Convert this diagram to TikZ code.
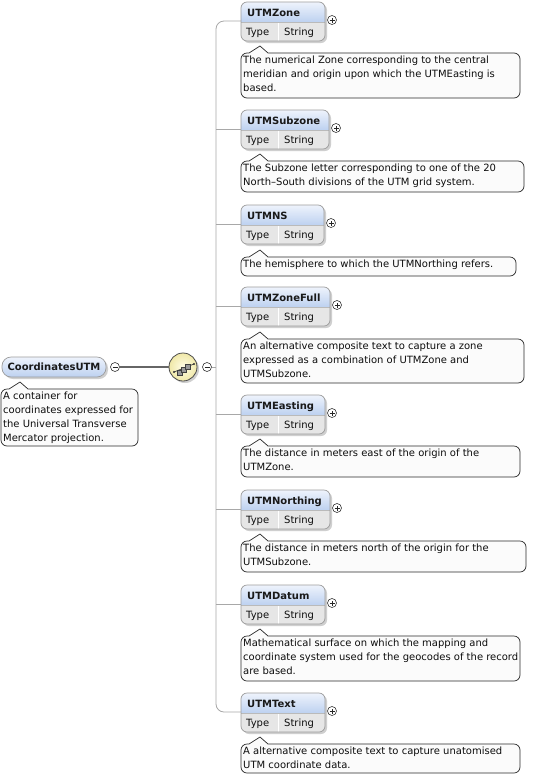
\documentclass[tikz,border=0pt]{standalone}
\usepackage{fontspec}
\setmainfont{DejaVu Sans}
\definecolor{headtop}{HTML}{EEF3FC}
\definecolor{headbot}{HTML}{BDD1F0}
\definecolor{typegray}{HTML}{E6E6E6}
\definecolor{bordergray}{HTML}{9C9C9C}
\definecolor{shadowgray}{HTML}{CFCFCF}
\definecolor{linegray}{HTML}{A8A8A8}
\definecolor{docborder}{HTML}{2A2A2A}
\definecolor{docfill}{HTML}{FBFBFB}
\definecolor{seqin}{HTML}{FFFDE6}
\definecolor{seqout}{HTML}{F0E8A8}
\tikzset{
  conn/.style={draw=linegray, line width=0.8pt},
  docbox/.style={draw=docborder, fill=docfill, line width=0.7pt},
  elname/.style={font=\bfseries\fontsize{10}{12}\selectfont, anchor=base west, inner sep=0pt, text=black!90},
  eltype/.style={font=\fontsize{10}{12}\selectfont, anchor=base west, inner sep=0pt, text=black!95},
  doctext/.style={font=\fontsize{10}{14}\selectfont, anchor=north west, inner sep=0pt, align=left, text=black!95},
  pm/.style={circle, draw=black!80, fill=white, line width=0.6pt, minimum size=9pt, inner sep=0pt},
  pmbar/.style={draw=black!85, line width=0.6pt},
}
\newcommand\docpath[4]{%
  \draw[docbox] (#1,-#2-6) arc[start angle=180,end angle=90,radius=6pt]
    -- (#1+8,-#2) -- (#1+19,-#2+7) -- (#1+27,-#2) -- (#3-6,-#2)
    arc[start angle=90,end angle=0,radius=6pt] -- (#3,-#4+6)
    arc[start angle=0,end angle=-90,radius=6pt] -- (#1+6,-#4)
    arc[start angle=270,end angle=180,radius=6pt] -- cycle;}
% id, name, top, right, doctop, docright, docbottom, text
\newcommand\elembox[8]{%
  \fill[shadowgray, rounded corners=6pt] (243,-#3-2) rectangle (#4+2,-#3-41);
  \fill[typegray, rounded corners=6pt] (241,-#3) rectangle (#4,-#3-39);
  \begin{scope}
    \clip[rounded corners=6pt] (241,-#3) rectangle (#4,-#3-39);
    \shade[top color=headtop, bottom color=headbot] (241,-#3) rectangle (#4,-#3-20);
  \end{scope}
  \draw[white, line width=1pt] (278,-#3-20.5) -- (278,-#3-39);
  \draw[bordergray!70, line width=0.5pt] (241,-#3-20) -- (#4,-#3-20);
  \draw[bordergray, line width=0.7pt, rounded corners=6pt] (241,-#3) rectangle (#4,-#3-39);
  \node[elname] (#1name) at (247,-#3-14) {#2};
  \node[eltype] (#1type) at (246,-#3-33.5) {Type};
  \node[eltype] (#1str) at (284,-#3-33.5) {String};
  \node[pm] (#1plus) at (#4+7,-#3-18) {};
  \draw[pmbar] ([xshift=-2.5pt]#1plus.center) -- ([xshift=2.5pt]#1plus.center);
  \draw[pmbar] ([yshift=-2.5pt]#1plus.center) -- ([yshift=2.5pt]#1plus.center);
  \coordinate (#1in) at (241,-#3-19);
  \docpath{241}{#5}{#6}{#7}
  \node[doctext] (#1doc) at (243,-#5-3) {#8};
}
\begin{document}
\begin{tikzpicture}[x=1pt,y=1pt]
\useasboundingbox (0,0) rectangle (550,-780);
\fill[white] (0,0) rectangle (550,-780);

% root element
\fill[shadowgray, rounded corners=9pt] (4,-359) rectangle (108,-379);
\shade[top color=headtop, bottom color=headbot, rounded corners=9pt] (2,-357) rectangle (106,-377);
\draw[bordergray, line width=0.7pt, rounded corners=9pt] (2,-357) rectangle (106,-377);
\node[font=\bfseries\fontsize{10}{12}\selectfont, text=black!90, inner sep=0pt] (root) at (54,-367) {CoordinatesUTM};
\docpath{1}{389}{138}{446}
\node[doctext] (rootdoc) at (3,-392) {A container for\\coordinates expressed for\\the Universal Transverse\\Mercator projection.};
\node[pm] (rootminus) at (115,-367) {};
\draw[pmbar] ([xshift=-2.5pt]rootminus.center) -- ([xshift=2.5pt]rootminus.center);

% sequence compositor
\fill[shadowgray] (185,-369) circle[radius=14pt];
\node[circle, minimum size=28pt, inner sep=0pt, draw=black!70, line width=0.8pt, inner color=seqin, outer color=seqout] (seq) at (183,-367) {};
\draw[black!60, line width=1.4pt] (rootminus) -- (seq);
\begin{scope}[shift={(seq.center)}]
  \draw[black!75, line width=0.7pt] (-9,-5) -- (11,3);
  \fill[black!80] (-9,-5) circle[radius=1.2pt];
  \fill[black!80] (11,3) circle[radius=1.2pt];
  \draw[black!75, fill=black!40, line width=0.5pt] (-6,-8) rectangle (-1,-3);
  \draw[black!75, fill=black!40, line width=0.5pt] (-2,-5) rectangle (3,0);
  \draw[black!75, fill=black!40, line width=0.5pt] (2,-2) rectangle (7,3);
\end{scope}
\node[pm] (seqminus) at (207,-367) {};
\draw[pmbar] ([xshift=-2.5pt]seqminus.center) -- ([xshift=2.5pt]seqminus.center);
\coordinate (hub) at (216,-367);

% children
\elembox{zone}{UTMZone}{2}{325}{53}{520}{98}{The numerical Zone corresponding to the central\\meridian and origin upon which the UTMEasting is\\based.}
\elembox{sub}{UTMSubzone}{110}{329}{161}{524}{192}{The Subzone letter corresponding to one of the 20\\North–South divisions of the UTM grid system.}
\elembox{ns}{UTMNS}{205}{324}{257}{516}{276}{The hemisphere to which the UTMNorthing refers.}
\elembox{full}{UTMZoneFull}{287}{330}{339}{524}{383}{An alternative composite text to capture a zone\\expressed as a combination of UTMZone and\\UTMSubzone.}
\elembox{east}{UTMEasting}{395}{325}{446}{520}{477}{The distance in meters east of the origin of the\\UTMZone.}
\elembox{north}{UTMNorthing}{490}{330}{541}{526}{572}{The distance in meters north of the origin for the\\UTMSubzone.}
\elembox{datum}{UTMDatum}{585}{325}{636}{520}{681}{Mathematical surface on which the mapping and\\coordinate system used for the geocodes of the record\\are based.}
\elembox{text}{UTMText}{693}{325}{744}{520}{773}{A alternative composite text to capture unatomised\\UTM coordinate data.}

% connectors
\draw[conn] (seqminus) -- (hub);
\draw[conn, rounded corners=8pt] (zonein) -- (zonein -| hub) -- (textin -| hub) -- (textin);
\foreach \c in {sub,ns,full,east,north,datum}
  \draw[conn] (\c in -| hub) -- (\c in);
\end{tikzpicture}
\end{document}
